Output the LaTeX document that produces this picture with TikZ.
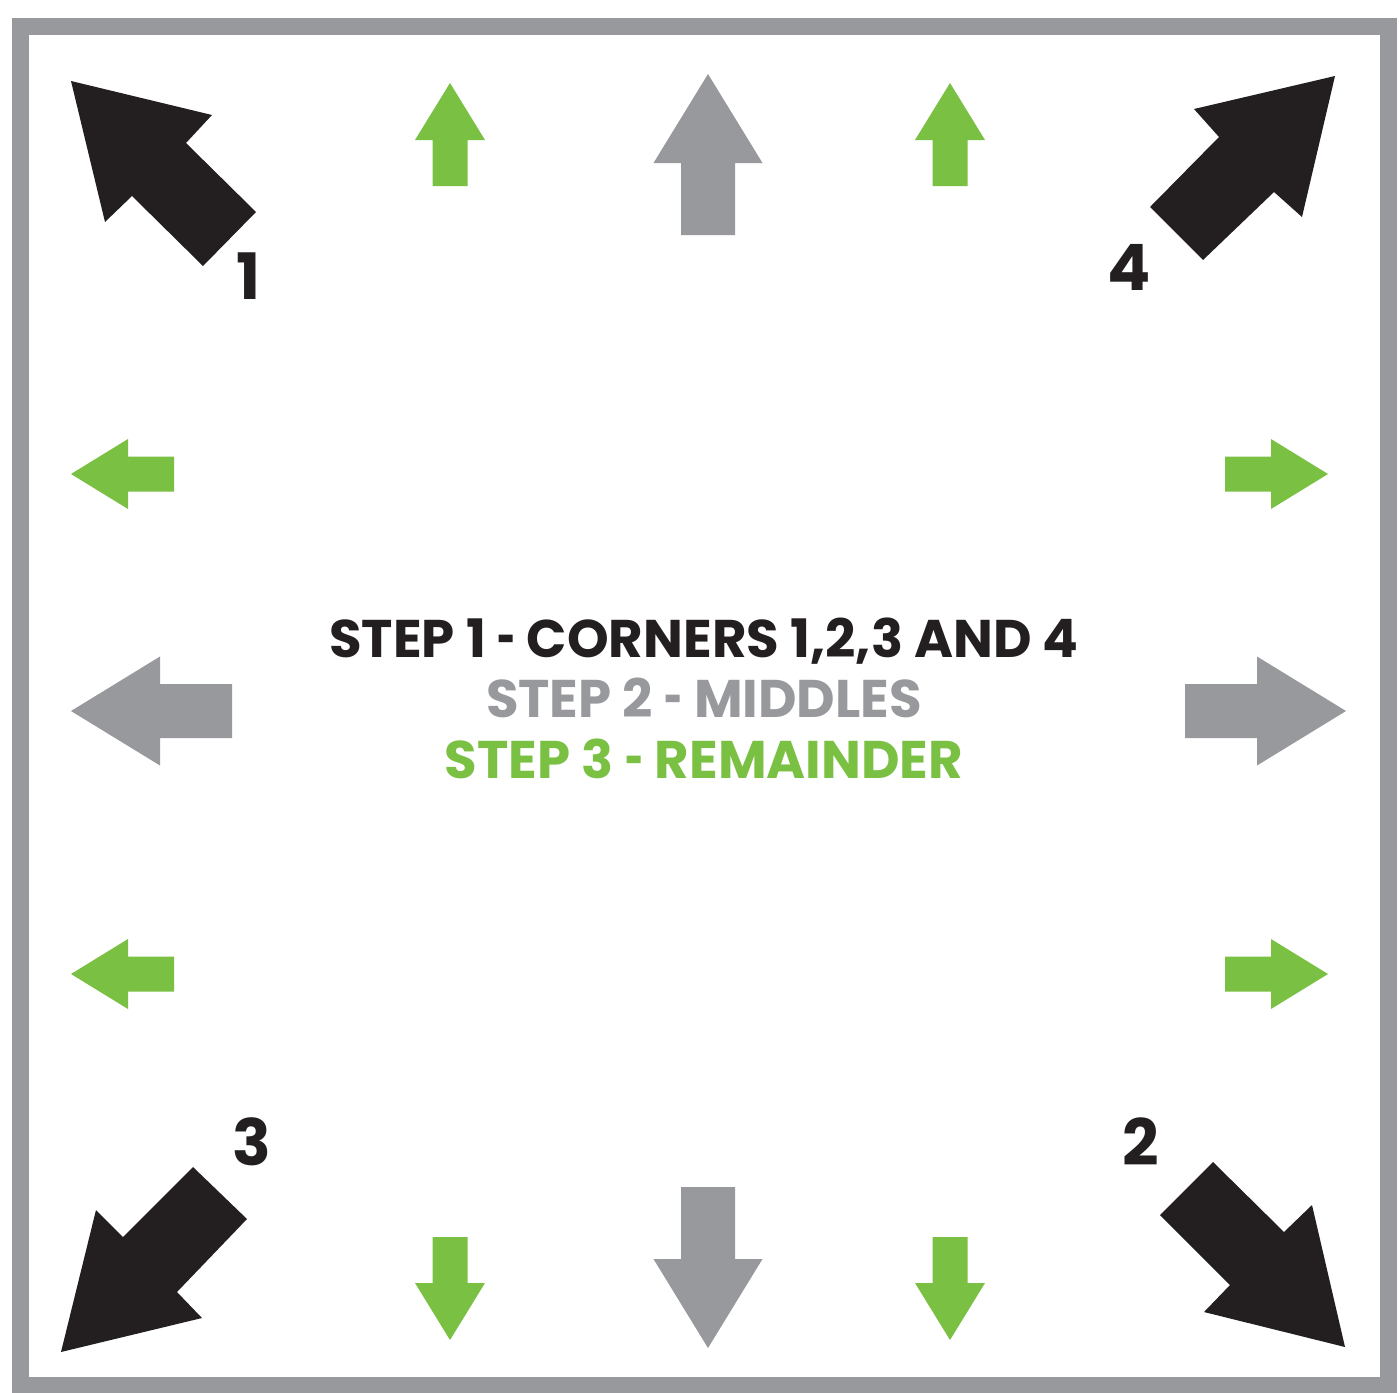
\documentclass[tikz,border=0pt]{standalone}
\usepackage{fontspec}
\setmainfont{Poppins}
\definecolor{fgray}{RGB}{152,153,157}
\definecolor{agray}{RGB}{152,153,157}
\definecolor{agreen}{RGB}{122,193,67}
\definecolor{ablack}{RGB}{35,31,32}
\tikzset{
  greenarrow/.pic={\fill[agreen] (0,0) -- (35,57) -- (17.5,57) -- (17.5,103) -- (-17.5,103) -- (-17.5,57) -- (-35,57) -- cycle;},
  grayarrow/.pic={\fill[agray] (0,0) -- (54.5,89) -- (27,89) -- (27,161) -- (-27,161) -- (-27,89) -- (-54.5,89) -- cycle;},
  cornerarrow/.style={fill=ablack},
  numlabel/.style={font=\fontsize{64}{64}\selectfont\bfseries, text=ablack, inner sep=0pt, anchor=base},
  steptext/.style={font=\fontsize{53}{53}\selectfont\bfseries, inner sep=0pt, anchor=base}
}
\newcommand{\shorthy}{\scalebox{0.6}[1]{-}}
\begin{document}
\begin{tikzpicture}[x=1pt,y=-1pt]
\useasboundingbox (0,0) rectangle (1399,1392);
\fill[white] (0,0) rectangle (1399,1392);
% frame
\draw[fgray, line width=17pt] (20.5,26.5) rectangle (1388.5,1385.5);
% corner arrows
\fill[cornerarrow] (71,81) -- (212,115) -- (186,143) -- (256,212) -- (203,266) -- (132,196) -- (105,222) -- cycle;
\fill[cornerarrow] (1335,76) -- (1194,109) -- (1219,137) -- (1150,207) -- (1203,260) -- (1274,192) -- (1302,217) -- cycle;
\fill[cornerarrow] (61,1352) -- (96,1210) -- (123,1237) -- (193,1167) -- (247,1219) -- (177,1292) -- (202,1318) -- cycle;
\fill[cornerarrow] (1345,1347) -- (1312,1205) -- (1284,1232) -- (1213,1162) -- (1160,1215) -- (1230,1285) -- (1204,1312) -- cycle;
% corner numbers
\node[numlabel] (n1) at (249,299) {1};
\node[numlabel] (n4) at (1129,290) {4};
\node[numlabel] (n3) at (252,1165) {3};
\node[numlabel] (n2) at (1141,1165) {2};
% gray middle arrows
\pic at (708,74) {grayarrow};
\pic[rotate=180] at (708,1348) {grayarrow};
\pic[rotate=90] at (71,711) {grayarrow};
\pic[rotate=-90] at (1346,711) {grayarrow};
% green arrows
\pic at (450,83) {greenarrow};
\pic at (950,83) {greenarrow};
\pic[rotate=180] at (450,1340) {greenarrow};
\pic[rotate=180] at (950,1340) {greenarrow};
\pic[rotate=90] at (71,474) {greenarrow};
\pic[rotate=90] at (71,974) {greenarrow};
\pic[rotate=-90] at (1328,474) {greenarrow};
\pic[rotate=-90] at (1328,974) {greenarrow};
% texts
\node[steptext, text=ablack] (s1) at (704,657) {STEP 1 \shorthy{} CORNERS 1,2,3 AND 4};
\node[steptext, text=agray] (s2) at (704,717) {STEP 2 \shorthy{} MIDDLES};
\node[steptext, text=agreen] (s3) at (704,778) {STEP 3 \shorthy{} REMAINDER};
\end{tikzpicture}
\end{document}
